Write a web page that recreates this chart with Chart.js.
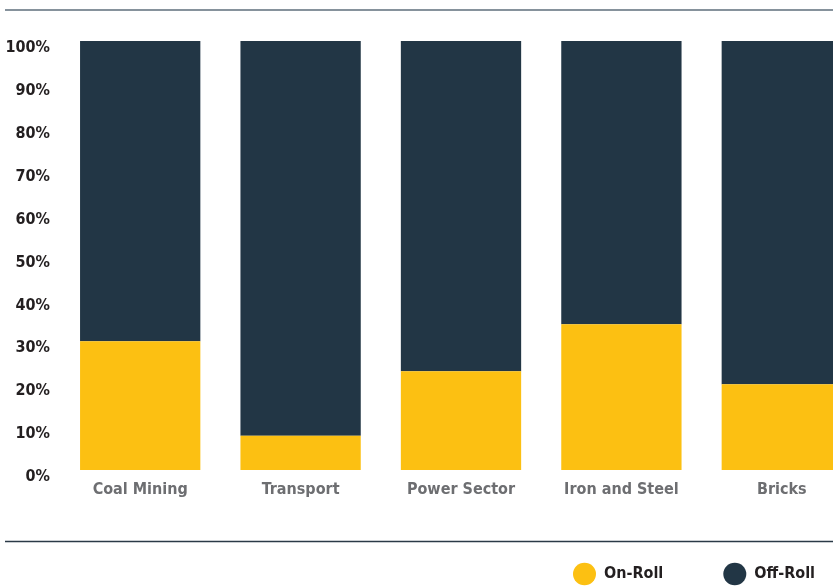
<!DOCTYPE html>
<html>
<head>
<meta charset="utf-8">
<script src="https://cdn.jsdelivr.net/npm/chart.js@4"></script>
<style>
  html, body { margin: 0; padding: 0; background: #fff; overflow: hidden; }
  #myChart { display: block; }
</style>
</head>
<body>
<canvas id="myChart" width="875" height="592"></canvas>
<script>
let sectors = ['Coal Mining', 'Transport', 'Power Sector', 'Iron and Steel', 'Bricks'];
let onRoll = [30, 8, 23, 34, 20];
let offRoll = [70, 92, 77, 66, 80];

let fontFamily = "'Liberation Sans Narrow', 'DejaVu Sans Condensed', sans-serif";

// thin rules above the bars and above the legend
let rules = {
  id: 'rules',
  afterDraw(chart) {
    let c = chart.ctx;
    let area = chart.chartArea;
    c.save();
    c.lineWidth = 1.5;
    c.strokeStyle = '#5e6e7b';
    c.beginPath();
    c.moveTo(5, area.top - 31);
    c.lineTo(chart.width, area.top - 31);
    c.stroke();
    c.strokeStyle = '#2b3a47';
    c.beginPath();
    c.moveTo(5, area.bottom + 71.5);
    c.lineTo(chart.width, area.bottom + 71.5);
    c.stroke();
    c.restore();
  }
};

let canvas = document.getElementById('myChart');
let ctx = canvas.getContext('2d');

let myChart = new Chart(ctx, {
  type: 'bar',
  data: {
    labels: sectors,
    datasets: [{
      label: 'On-Roll',
      data: onRoll,
      backgroundColor: 'rgb(252, 192, 18)',
      borderWidth: 0,
      categoryPercentage: 0.75,
      barPercentage: 1
    }, {
      label: 'Off-Roll',
      data: offRoll,
      backgroundColor: 'rgb(34, 54, 69)',
      borderWidth: 0,
      categoryPercentage: 0.75,
      barPercentage: 1
    }]
  },
  options: {
    responsive: false,
    animation: false,
    layout: { padding: { top: 41, left: 0, right: 0, bottom: 0 } },
    plugins: {
      tooltip: { enabled: false },
      legend: {
        position: 'bottom',
        align: 'end',
        labels: {
          usePointStyle: true,
          pointStyle: 'circle',
          pointStyleWidth: 23,
          boxHeight: 16,
          padding: 60,
          color: '#231f20',
          font: { family: fontFamily, size: 16, weight: 'bold' }
        }
      }
    },
    scales: {
      x: {
        stacked: true,
        grid: { display: false, drawTicks: false },
        border: { display: false },
        afterFit: function(axis) { axis.height = 36; },
        ticks: {
          padding: 10,
          color: '#6d6e71',
          font: { family: fontFamily, size: 16, weight: 'bold' }
        }
      },
      y: {
        stacked: true,
        min: 0,
        max: 100,
        grid: { display: false, drawTicks: false },
        border: { display: false },
        afterFit: function(axis) { axis.width = 60; },
        ticks: {
          stepSize: 10,
          padding: 10,
          labelOffset: 7,
          color: '#231f20',
          font: { family: fontFamily, size: 16, weight: 'bold' },
          callback: function(value) { return value + '%'; }
        }
      },
      edge: {
        type: 'linear',
        position: 'right',
        grid: { display: false, drawTicks: false },
        border: { display: false },
        ticks: { display: false },
        afterFit: function(axis) { axis.width = 13; }
      }
    }
  },
  plugins: [rules]
});
</script>
</body>
</html>
